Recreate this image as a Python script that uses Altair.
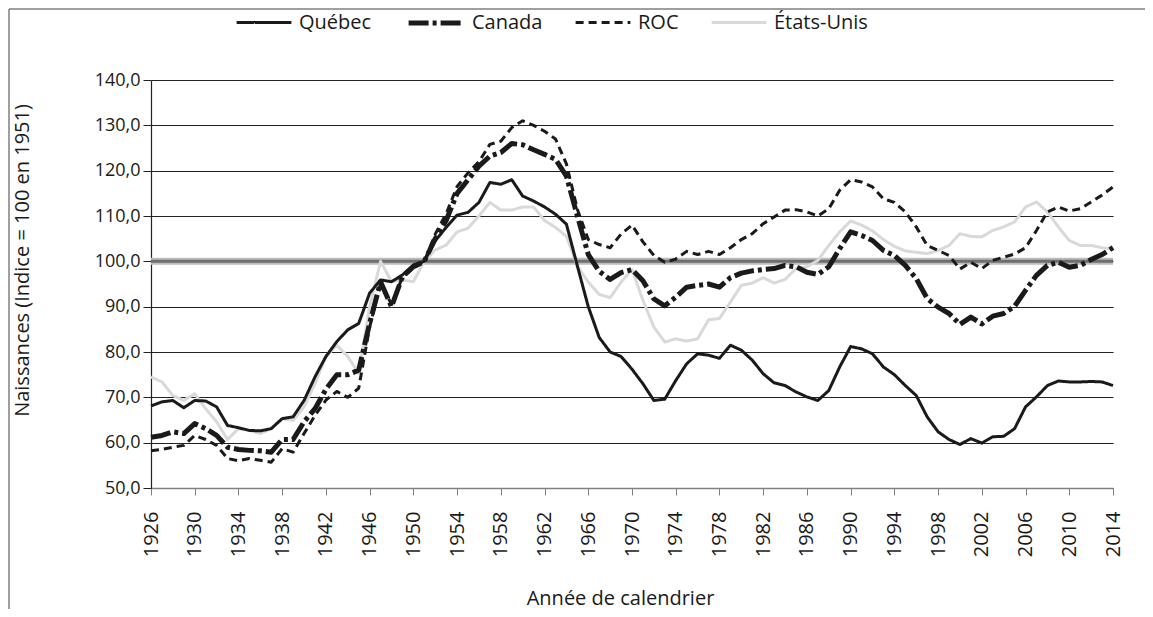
import altair as alt
import pandas as pd

years = list(range(1926, 2015))

quebec = [68.1, 69.0, 69.3, 67.7, 69.3, 69.2, 67.9, 63.8, 63.3, 62.7,
          62.6, 63.1, 65.3, 65.7, 69.3, 74.5, 79.0, 82.3, 84.9, 86.3,
          93.0, 95.9, 95.5, 97.0, 99.2, 100.0, 104.5, 107.5, 110.2, 110.8,
          113.0, 117.4, 117.0, 118.0, 114.4, 113.3, 112.0, 110.4, 108.2, 99.0,
          90.0, 83.2, 80.0, 79.0, 76.2, 73.0, 69.3, 69.6, 73.7, 77.4,
          79.6, 79.3, 78.6, 81.5, 80.4, 78.2, 75.2, 73.2, 72.6, 71.2,
          70.1, 69.3, 71.5, 76.7, 81.2, 80.7, 79.6, 76.7, 75.0, 72.6,
          70.4, 65.7, 62.4, 60.7, 59.6, 60.9, 59.9, 61.3, 61.4, 63.1,
          67.9, 70.1, 72.6, 73.6, 73.4, 73.4, 73.5, 73.4, 72.6]

canada = [61.2, 61.6, 62.4, 62.0, 64.2, 63.1, 61.6, 59.0, 58.5, 58.3,
          58.2, 57.9, 60.7, 60.7, 64.6, 67.5, 71.8, 75.0, 75.0, 76.0,
          86.3, 95.5, 90.0, 96.6, 98.8, 100.0, 105.0, 109.0, 115.0, 118.0,
          121.0, 123.2, 124.0, 126.0, 125.7, 124.6, 123.6, 122.5, 118.8, 110.0,
          101.5, 97.8, 96.0, 97.5, 98.2, 95.7, 91.7, 90.2, 92.1, 94.3,
          94.7, 95.0, 94.3, 96.4, 97.4, 97.9, 98.2, 98.4, 99.1, 98.8,
          97.6, 97.1, 98.8, 102.8, 106.5, 105.7, 104.6, 102.4, 101.3, 99.1,
          96.2, 91.8, 89.9, 88.5, 86.1, 87.7, 86.2, 87.9, 88.5, 90.1,
          93.6, 96.9, 99.1, 99.8, 98.7, 99.1, 100.4, 101.5, 103.0]

roc = [58.2, 58.5, 59.0, 59.4, 61.6, 60.7, 59.4, 56.5, 56.0, 56.5,
       56.1, 55.7, 58.7, 57.9, 62.0, 66.0, 69.4, 71.3, 70.0, 72.0,
       85.5, 95.2, 90.5, 96.5, 98.5, 100.0, 106.0, 110.5, 116.5, 119.5,
       122.0, 125.8, 126.5, 129.5, 131.0, 130.0, 128.7, 127.0, 121.5, 111.5,
       104.8, 103.7, 103.0, 106.0, 108.0, 104.3, 101.3, 99.8, 100.5, 102.2,
       101.5, 102.2, 101.5, 103.0, 104.8, 106.1, 108.3, 109.8, 111.3, 111.4,
       110.9, 110.0, 111.6, 115.7, 118.0, 117.5, 116.4, 113.8, 113.0, 110.9,
       107.6, 103.5, 102.4, 101.3, 98.3, 99.8, 98.4, 100.2, 100.9, 101.6,
       103.0, 106.8, 110.9, 112.0, 111.1, 111.6, 113.1, 114.6, 116.4]

usa = [74.5, 73.4, 70.4, 69.3, 70.8, 67.5, 64.6, 60.7, 63.1, 62.7,
       62.0, 63.1, 65.3, 64.9, 67.9, 73.0, 79.0, 81.5, 79.0, 75.3,
       90.0, 100.0, 95.5, 95.9, 95.5, 100.0, 102.5, 103.6, 106.5, 107.3,
       110.0, 113.0, 111.3, 111.3, 112.0, 112.0, 109.0, 107.5, 105.5, 99.0,
       95.4, 92.7, 92.0, 95.4, 98.2, 91.4, 85.5, 82.2, 82.9, 82.4,
       82.9, 87.1, 87.4, 91.0, 94.7, 95.2, 96.4, 95.2, 96.0, 98.4,
       98.8, 100.2, 103.5, 106.5, 108.9, 108.0, 106.7, 104.8, 103.3, 102.3,
       102.0, 101.7, 102.4, 103.5, 106.1, 105.5, 105.4, 106.8, 107.6, 108.7,
       112.0, 113.1, 110.9, 107.6, 104.6, 103.5, 103.5, 103.0, 102.6]

series_names = ["Québec", "Canada", "ROC", "États-Unis"]
series_colors = ["#1a1a1a", "#1a1a1a", "#1a1a1a", "#d9d9d9"]
series_dash = [[1, 0], [20, 4, 4, 4], [8, 5], [1, 0]]
series_width = [3, 5, 3, 3]

x_ticks = list(range(1926, 2015, 4))
y_ticks = [50, 60, 70, 80, 90, 100, 110, 120, 130, 140]
reference_value = [100]

rows = []
for name, vals in [("États-Unis", usa), ("ROC", roc), ("Canada", canada), ("Québec", quebec)]:
    for yr, v in zip(years, vals):
        rows.append({"annee": yr, "valeur": v, "serie": name})
df = pd.DataFrame(rows)
ref_df = pd.DataFrame({"valeur": reference_value})

FONT = "Open Sans"
W, H = 962, 408

x_enc = alt.X(
    "annee:Q",
    title="Année de calendrier",
    scale=alt.Scale(domain=[1926, 2014], nice=False, zero=False),
    axis=alt.Axis(
        values=x_ticks, format="d", labelAngle=-90, grid=False,
        tickSize=7, tickColor="#808080", domainColor="#808080", domainWidth=1.5,
        labelPadding=16, labelFont=FONT, labelFontSize=20, labelColor="#1a1a1a",
        titleFont=FONT, titleFontSize=20, titleFontWeight="normal", titleColor="#1a1a1a",
        titleX=469, titleY=110, titleAlign="center", titleBaseline="middle",
    ),
)
y_enc = alt.Y(
    "valeur:Q",
    title="Naissances (Indice = 100 en 1951)",
    scale=alt.Scale(domain=[50, 140], nice=False, zero=False),
    axis=alt.Axis(
        values=y_ticks,
        labelExpr="replace(format(datum.value, '.1f'), '.', ',')",
        grid=True, gridColor="#222222", gridWidth=1.2,
        tickSize=8, tickColor="#222222", domainColor="#222222", domainWidth=1.2,
        labelPadding=3, labelFont=FONT, labelFontSize=18, labelColor="#1a1a1a",
        titleFont=FONT, titleFontSize=20, titleFontWeight="normal", titleColor="#1a1a1a",
        titleX=-129, titleY=180, titleAlign="center", titleBaseline="middle", titleAngle=-90,
    ),
)

legend = alt.Legend(
    orient="none", legendX=84, legendY=-87, direction="horizontal", title=None,
    symbolType="stroke", symbolSize=3000, labelFont=FONT, labelFontSize=20,
    labelColor="#1a1a1a", columnPadding=26, labelOffset=6, symbolStrokeColor="#1a1a1a",
)

band_outer = alt.Chart(ref_df).mark_rule(color="#bdbdbd", strokeWidth=7).encode(
    y=alt.Y("valeur:Q")
)
band_inner = alt.Chart(ref_df).mark_rule(color="#6e6e6e", strokeWidth=3).encode(
    y=alt.Y("valeur:Q")
)

lines = alt.Chart(df).mark_line(strokeCap="butt", strokeJoin="round").encode(
    x=x_enc,
    y=y_enc,
    color=alt.Color("serie:N", scale=alt.Scale(domain=series_names, range=series_colors), legend=legend),
    strokeDash=alt.StrokeDash("serie:N", scale=alt.Scale(domain=series_names, range=series_dash), legend=legend),
    strokeWidth=alt.StrokeWidth("serie:N", scale=alt.Scale(type="ordinal", domain=series_names, range=series_width), legend=legend),
)

frame_df = pd.DataFrame({"k": [0]})
frame_left = alt.Chart(frame_df).mark_rule(color="#7f7f7f", strokeWidth=1.5).encode(
    x=alt.value(-142), y=alt.value(-71), y2=alt.value(540)
)
frame_top = alt.Chart(frame_df).mark_rule(color="#7f7f7f", strokeWidth=1.5).encode(
    x=alt.value(-142), x2=alt.value(994), y=alt.value(-71)
)

chart = alt.layer(band_outer, band_inner, lines, frame_left, frame_top).properties(
    width=W, height=H,
    autosize=alt.AutoSizeParams(type="none"),
    padding={"left": 143, "top": 72, "right": 32, "bottom": 121},
).configure_view(stroke=None)

chart.save("out.html", embed_options={"renderer": "svg", "actions": False})
